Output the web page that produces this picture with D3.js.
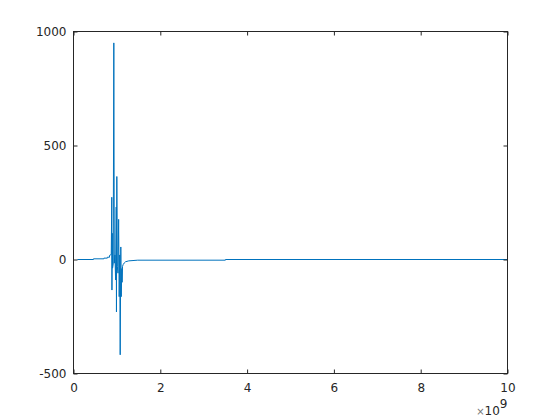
<!DOCTYPE html>
<html>
<head>
<meta charset="utf-8">
<script src="https://cdn.jsdelivr.net/npm/d3@7"></script>
<style>
  html, body { margin: 0; padding: 0; background: #fff; }
  svg { display: block; }
  .tick text { font-family: "DejaVu Sans", sans-serif; font-size: 12px; fill: #262626; }
  .tick line { stroke: #262626; }
</style>
</head>
<body>
<div id="chart"></div>
<script>
const width = 560;
const height = 420;

// x in units of 1e9, y raw value
const xValues = [0.09, 0.46, 0.46, 0.70, 0.70, 0.78, 0.78, 0.83, 0.83, 0.87,
    0.882, 0.886, 0.892, 0.90, 0.915, 0.929, 0.94, 0.955, 0.97, 0.984,
    0.99, 0.998, 1.01, 1.025, 1.04, 1.053, 1.065, 1.076, 1.09, 1.10,
    1.113, 1.12, 1.13, 1.145, 1.17, 1.198, 1.274, 1.48, 3.5, 3.5, 10];
const yValues = [0, 0, 3, 3, 6, 6, 10, 10, 18, 22,
    273, -134, 115, -38, -20, 950, -16, 20, -90, 230,
    -230, 364, -30, -60, 176, -163, 20, -418, 55, -163,
    -40, -100, -30, -22, -15, -10, -6, -3, -3, 0, 0];

const xTicks = [0, 2, 4, 6, 8, 10];
const yTicks = [-500, 0, 500, 1000];

const margin = { left: 73.5, right: 52.5, top: 31.5, bottom: 46.5 };
const innerW = width - margin.left - margin.right;
const innerH = height - margin.top - margin.bottom;

const svg = d3.select("#chart")
    .append("svg")
    .attr("width", width)
    .attr("height", height);

const g = svg.append("g")
    .attr("transform", `translate(${margin.left},${margin.top})`);

const x = d3.scaleLinear().domain([0, 10]).range([0, innerW]);
const y = d3.scaleLinear().domain([-500, 1000]).range([innerH, 0]);

const plain = d => String(d);

// data line
const line = d3.line()
    .x(d => x(d[0]))
    .y(d => y(d[1]));

const points = xValues.map((v, i) => [v, yValues[i]]);

g.append("path")
    .datum(points)
    .attr("fill", "none")
    .attr("stroke", "#0072BD")
    .attr("stroke-width", 1)
    .attr("d", line);

// axes, ticks pointing inward
g.append("g")
    .attr("transform", `translate(0,${innerH})`)
    .call(d3.axisBottom(x).tickValues(xTicks).tickFormat(plain)
        .tickSizeInner(-4).tickSizeOuter(0).tickPadding(10));

g.append("g")
    .call(d3.axisLeft(y).tickValues(yTicks).tickFormat(plain)
        .tickSizeInner(-4).tickSizeOuter(0).tickPadding(7));

g.append("g")
    .call(d3.axisTop(x).tickValues(xTicks).tickSizeInner(-4).tickSizeOuter(0).tickFormat(""));

g.append("g")
    .attr("transform", `translate(${innerW},0)`)
    .call(d3.axisRight(y).tickValues(yTicks).tickSizeInner(-4).tickSizeOuter(0).tickFormat(""));

g.selectAll(".domain").remove();

g.append("rect")
    .attr("width", innerW)
    .attr("height", innerH)
    .attr("fill", "none")
    .attr("stroke", "#262626")
    .attr("stroke-width", 1);

// exponent label
const expLabel = svg.append("text")
    .attr("x", width - margin.right)
    .attr("y", 415)
    .attr("text-anchor", "end")
    .attr("font-family", "DejaVu Sans, sans-serif")
    .attr("font-size", 12)
    .attr("fill", "#262626");
expLabel.append("tspan").attr("fill", "#777").attr("font-size", 10).text("×");
expLabel.append("tspan").text("10");
expLabel.append("tspan").attr("dy", -7).text("9");
</script>
</body>
</html>
